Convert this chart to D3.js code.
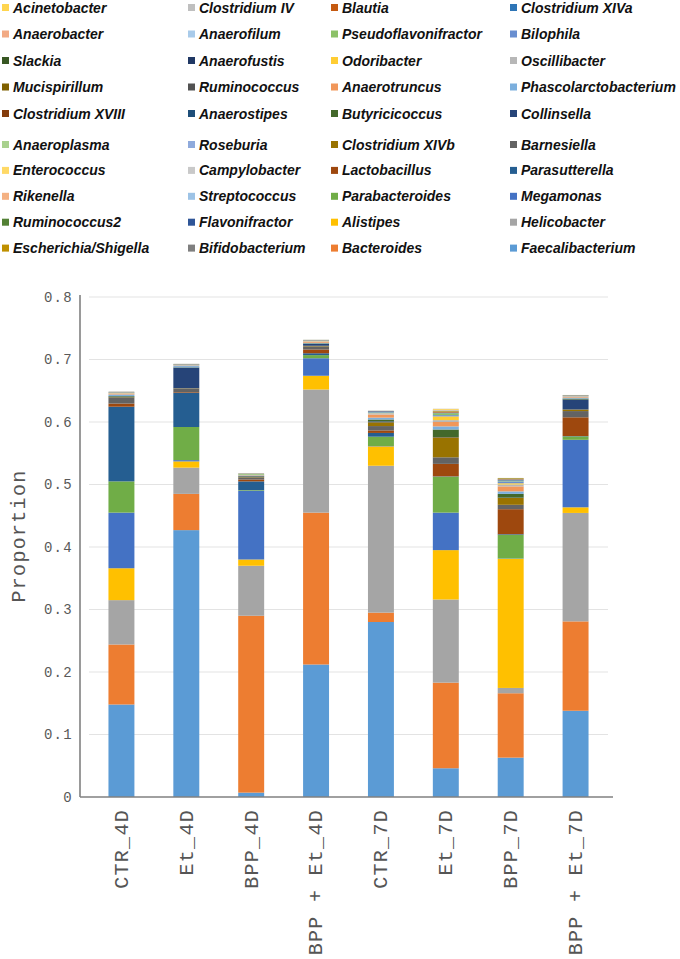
<!DOCTYPE html>
<html>
<head>
<meta charset="utf-8">
<script src="https://cdn.jsdelivr.net/npm/d3@7"></script>
<style>
  html, body { margin: 0; padding: 0; background: #fff; }
  svg { display: block; }
</style>
</head>
<body>
<svg id="chart" width="680" height="959"></svg>
<script>
// Sample groups (x axis)
const groups = ["CTR_4D", "Et_4D", "BPP_4D", "BPP + Et_4D", "CTR_7D", "Et_7D", "BPP_7D", "BPP + Et_7D"];

// Genera in stacking order (bottom -> top)
const genera = [
  "Faecalibacterium", "Bacteroides", "Helicobacter", "Alistipes", "Megamonas", "Parabacteroides",
  "Parasutterella", "Lactobacillus", "Barnesiella", "Clostridium XIVb", "Collinsella", "Butyricicoccus",
  "Phascolarctobacterium", "Anaerotruncus", "Oscillibacter", "Odoribacter", "Bilophila", "Pseudoflavonifractor",
  "Clostridium XIVa", "Blautia", "Bifidobacterium", "Escherichia/Shigella", "Flavonifractor", "Ruminococcus2",
  "Streptococcus", "Rikenella", "Campylobacter", "Enterococcus", "Roseburia", "Anaeroplasma",
  "Anaerostipes", "Clostridium XVIII", "Ruminococcus", "Mucispirillum", "Anaerofustis", "Slackia",
  "Anaerofilum", "Anaerobacter", "Clostridium IV", "Acinetobacter"
];

const colors = [
  "#5B9BD5", "#ED7D31", "#A5A5A5", "#FFC000", "#4472C4", "#70AD47",
  "#255E91", "#9E480E", "#636363", "#997300", "#264478", "#43682B",
  "#7CAFDD", "#F1975A", "#B7B7B7", "#FFCD33", "#698ED0", "#8CC168",
  "#2E75B6", "#C55A11", "#7F7F7F", "#BF9000", "#2F5597", "#538135",
  "#9DC3E6", "#F4B183", "#C9C9C9", "#FFD966", "#8FAADC", "#A9D18E",
  "#1F4E79", "#843C0C", "#525252", "#7F6000", "#203864", "#385723",
  "#A9CBEA", "#F2AA84", "#BFBFBF", "#FFD54F"
];

// Proportions per sample, in the genera order above
const CTR_4D = [0.148, 0.096, 0.071, 0.051, 0.089, 0.050, 0.1195, 0.005, 0.009, 0.001, 0.001, 0.001,
  0.0025, 0.0015, 0.0005, 0.0003, 0.0005, 0.0003, 0.0003, 0.0002,
  0.00005, 0.00005, 0.00005, 0.00005, 0.00005, 0.00005, 0.00005, 0.00005, 0.00005, 0.00005,
  0.00005, 0.00005, 0.00005, 0.00005, 0.00005, 0.00005, 0.00005, 0.00005, 0.00005, 0.00005];
const Et_4D = [0.427, 0.058, 0.042, 0.010, 0.002, 0.053, 0.055, 0.001, 0.0055, 0.0005, 0.033, 0.0005,
  0.002, 0.0005, 0.0005, 0.0003, 0.0005, 0.0003, 0.0003, 0.0002,
  0.00005, 0.00005, 0.00005, 0.00005, 0.00005, 0.00005, 0.00005, 0.00005, 0.00005, 0.00005,
  0.00005, 0.00005, 0.00005, 0.00005, 0.00005, 0.00005, 0.00005, 0.00005, 0.00005, 0.00005];
const BPP_4D = [0.007, 0.283, 0.080, 0.010, 0.110, 0.001, 0.014, 0.003, 0.0035, 0.0008, 0.0008, 0.0008,
  0.0005, 0.0005, 0.0003, 0.0002, 0.0003, 0.0012, 0.0002, 0.0002,
  0.00003, 0.00003, 0.00003, 0.00003, 0.00003, 0.00003, 0.00003, 0.00003, 0.00003, 0.00003,
  0.00003, 0.00003, 0.00003, 0.00003, 0.00003, 0.00003, 0.00003, 0.00003, 0.00003, 0.00003];
const BPP_Et_4D = [0.212, 0.243, 0.197, 0.022, 0.028, 0.005, 0.003, 0.006, 0.005, 0.001, 0.003, 0.0008,
  0.001, 0.0015, 0.001, 0.0003, 0.0005, 0.0003, 0.0003, 0.0003,
  0.00003, 0.00003, 0.00003, 0.00003, 0.00003, 0.00003, 0.00003, 0.00003, 0.00003, 0.00003,
  0.00003, 0.00003, 0.00003, 0.00003, 0.00003, 0.00003, 0.00003, 0.00003, 0.00003, 0.00003];
const CTR_7D = [0.280, 0.015, 0.235, 0.031, 0.0005, 0.015, 0.006, 0.004, 0.007, 0.006, 0.0015, 0.003,
  0.003, 0.005, 0.0015, 0.0005, 0.001, 0.0005, 0.0005, 0.0003,
  0.0005, 0.00003, 0.0008, 0.00003, 0.00003, 0.00003, 0.00003, 0.00003, 0.00003, 0.00003,
  0.00003, 0.00003, 0.00003, 0.00003, 0.00003, 0.00003, 0.00003, 0.00003, 0.00003, 0.00003];
const Et_7D = [0.046, 0.137, 0.133, 0.079, 0.060, 0.0575, 0.0005, 0.020, 0.0105, 0.032, 0.0005, 0.012,
  0.005, 0.007, 0.003, 0.006, 0.002, 0.003, 0.001, 0.001,
  0.0005, 0.001, 0.0003, 0.0003, 0.0003, 0.0005, 0.0003, 0.0015, 0.00003, 0.00003,
  0.00003, 0.00003, 0.00003, 0.00003, 0.00003, 0.00003, 0.00003, 0.00003, 0.00003, 0.00003];
const BPP_7D = [0.063, 0.103, 0.0085, 0.2065, 0.0005, 0.038, 0.001, 0.040, 0.007, 0.011, 0.0005, 0.006,
  0.004, 0.008, 0.003, 0.002, 0.003, 0.001, 0.001, 0.001,
  0.001, 0.001, 0.00003, 0.00003, 0.00003, 0.00003, 0.00003, 0.00003, 0.00003, 0.00003,
  0.00003, 0.00003, 0.00003, 0.00003, 0.00003, 0.00003, 0.00003, 0.00003, 0.00003, 0.00003];
const BPP_Et_7D = [0.138, 0.143, 0.1735, 0.009, 0.108, 0.0055, 0.0005, 0.030, 0.010, 0.0025, 0.016, 0.0015,
  0.0015, 0.001, 0.001, 0.0003, 0.0005, 0.0003, 0.0003, 0.0003,
  0.00003, 0.00003, 0.00003, 0.00003, 0.00003, 0.00003, 0.00003, 0.00003, 0.00003, 0.00003,
  0.00003, 0.00003, 0.00003, 0.00003, 0.00003, 0.00003, 0.00003, 0.00003, 0.00003, 0.00003];

const sampleValues = [CTR_4D, Et_4D, BPP_4D, BPP_Et_4D, CTR_7D, Et_7D, BPP_7D, BPP_Et_7D];
const yTicks = [0, 0.1, 0.2, 0.3, 0.4, 0.5, 0.6, 0.7, 0.8];
const yTitle = "Proportion";

// ---------- build table for d3.stack ----------
const table = groups.map((g, i) => {
  const row = { group: g };
  genera.forEach((name, j) => { row[name] = sampleValues[i][j]; });
  return row;
});
const series = d3.stack().keys(genera)(table);

const svg = d3.select("#chart");
const mono = "'Liberation Mono', 'Courier New', monospace";

const x = d3.scaleBand().domain(groups).range([89, 608]).paddingInner(0.6).paddingOuter(0.3);
const y = d3.scaleLinear().domain([0, 0.8]).range([797, 297]);
const color = d3.scaleOrdinal().domain(genera).range(colors);

// gridlines
svg.append("g")
  .selectAll("line")
  .data(yTicks.filter(d => d > 0))
  .join("line")
  .attr("x1", 89).attr("x2", 608)
  .attr("y1", d => y(d)).attr("y2", d => y(d))
  .attr("stroke", "#e3e3e3").attr("stroke-width", 1.2);

// bars
svg.append("g")
  .selectAll("g")
  .data(series)
  .join("g")
  .attr("fill", d => color(d.key))
  .selectAll("rect")
  .data(d => d)
  .join("rect")
  .attr("x", d => x(d.data.group))
  .attr("width", x.bandwidth())
  .attr("y", d => y(d[1]))
  .attr("height", d => Math.max(0, y(d[0]) - y(d[1])));

// y axis
const yAxis = svg.append("g")
  .attr("transform", "translate(80,0)")
  .call(d3.axisLeft(y).tickValues(yTicks).tickSize(0).tickPadding(7)
    .tickFormat(d => d === 0 ? "0" : d3.format(".1f")(d)));
yAxis.select(".domain").attr("stroke", "#808080").attr("stroke-width", 1.6)
  .attr("d", `M0,${y(0.8) - 2}V${y(0)}`);
yAxis.selectAll("text")
  .attr("font-family", mono).attr("font-size", 14).attr("letter-spacing", 1.3)
  .attr("fill", "#595959");

// x axis
const xAxis = svg.append("g")
  .attr("transform", `translate(0,${y(0)})`)
  .call(d3.axisBottom(x).tickSize(0).tickPadding(0));
xAxis.select(".domain").attr("stroke", "#808080").attr("stroke-width", 1.6)
  .attr("d", "M80,0H613");
xAxis.selectAll("text")
  .attr("font-family", mono).attr("font-size", 20).attr("letter-spacing", 1.3)
  .attr("fill", "#555")
  .attr("text-anchor", "end")
  .attr("transform", "translate(0,12) rotate(-90)")
  .attr("x", 0).attr("y", 0).attr("dy", "0.32em");

// y title
svg.append("text")
  .attr("transform", "translate(25,536) rotate(-90)")
  .attr("text-anchor", "middle")
  .attr("font-family", mono).attr("font-size", 20).attr("letter-spacing", 1.3)
  .attr("fill", "#555")
  .text(yTitle);

// legend
const colTextX = [13, 199, 342, 521];
const legendRowY = r => r < 5 ? 7.5 + 26.5 * r : 144.5 + 25.9 * (r - 5);
const legendItems = genera.map((name, i) => {
  const half = i < 20 ? 3 : 1;
  const j = i % 20;
  return { name, row: 9 - Math.floor(j / 2), col: half - (j % 2) };
});
const lg = svg.append("g")
  .selectAll("g")
  .data(legendItems)
  .join("g")
  .attr("transform", d => `translate(${colTextX[d.col]},${legendRowY(d.row)})`);
lg.append("rect")
  .attr("x", -11).attr("y", -3.5).attr("width", 7).attr("height", 7)
  .attr("fill", d => color(d.name));
lg.append("text")
  .attr("x", 0).attr("dy", "0.36em")
  .attr("font-family", "'Liberation Sans', Arial, sans-serif")
  .attr("font-size", 14).attr("font-weight", "bold").attr("font-style", "italic")
  .attr("fill", "#111")
  .text(d => d.name);
</script>
</body>
</html>
